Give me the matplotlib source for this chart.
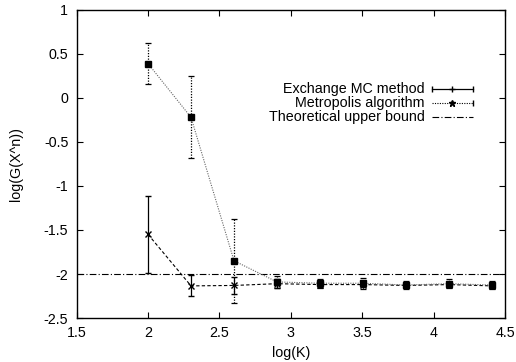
import matplotlib
matplotlib.use('Agg')
import matplotlib.pyplot as plt
import numpy as np

plt.rcParams['font.family'] = ['Liberation Sans', 'DejaVu Sans']

# ── Data ───────────────────────────────────────────────────────────
log_k = np.log10([100, 200, 400, 800, 1600, 3200, 6400, 12800, 25600])

exch_vals = [-1.55, -2.135, -2.13, -2.11, -2.12, -2.12, -2.13, -2.12, -2.135]
exch_err  = [0.44, 0.12, 0.10, 0.05, 0.03, 0.03, 0.02, 0.03, 0.02]

metro_vals = [0.39, -0.22, -1.85, -2.09, -2.105, -2.105, -2.125, -2.11, -2.125]
metro_err  = [0.235, 0.465, 0.475, 0.07, 0.05, 0.06, 0.04, 0.05, 0.05]

upper_bound = -2.0

x_ticks = [1.5, 2, 2.5, 3, 3.5, 4, 4.5]
y_ticks = [-2.5, -2, -1.5, -1, -0.5, 0, 0.5, 1]

FS = 10.3

# ── Figure ─────────────────────────────────────────────────────────
fig = plt.figure(figsize=(5.16, 3.62), dpi=100, facecolor='white')
ax = fig.add_axes([0.1486, 0.1215, 0.83, 0.851])

# Theoretical upper bound
ax.axhline(upper_bound, color='black', linewidth=0.8, linestyle=(0, (6, 2, 1, 2)), zorder=1)

# Exchange MC method: dashed line, solid error bars
ax.errorbar(log_k, exch_vals, yerr=exch_err, color='black', linewidth=0.8,
            linestyle=(0, (3, 2)), marker='x', markersize=4, markeredgewidth=1.0,
            ecolor='black', elinewidth=0.9, capsize=2.5, capthick=0.9, zorder=3)

# Metropolis algorithm: dotted line, dotted error bars, filled squares
_, _, bars = ax.errorbar(log_k, metro_vals, yerr=metro_err, color='#666666',
                         linewidth=0.8, linestyle=(0, (1, 1.2)), marker='s',
                         markersize=5, markerfacecolor='black', markeredgecolor='black',
                         ecolor='black', elinewidth=0.9, capsize=2.5, capthick=0.9, zorder=4)
for b in bars:
    b.set_linestyle((0, (1, 1.2)))

# ── Axes styling ───────────────────────────────────────────────────
ax.set_xlim(1.5, 4.5)
ax.set_ylim(-2.5, 1)
ax.set_xticks(x_ticks)
ax.set_yticks(y_ticks)
ax.set_xticklabels(['1.5', '2', '2.5', '3', '3.5', '4', '4.5'])
ax.set_yticklabels(['-2.5', '-2', '-1.5', '-1', '-0.5', '0', '0.5', '1'])
ax.tick_params(direction='in', length=4, width=0.8, labelsize=FS,
               top=True, right=True, pad=6)
for spine in ax.spines.values():
    spine.set_linewidth(1.0)

ax.set_xlabel('log(K)', fontsize=FS, labelpad=4)
ax.set_ylabel('log(G(X^n))', fontsize=FS, labelpad=15)

# ── Legend (gnuplot style, text right-aligned) ────────────────────
tx, lx0, lx1 = 0.813, 0.8296, 0.925
rows = [0.7435, 0.698, 0.6526]
labels = ['Exchange MC method', 'Metropolis algorithm', 'Theoretical upper bound']
for y, lab in zip(rows, labels):
    ax.text(tx, y, lab, transform=ax.transAxes, ha='right', va='center', fontsize=FS)

lm = (lx0 + lx1) / 2
ax.plot([lx0, lx1], [rows[0]] * 2, transform=ax.transAxes, color='black', linewidth=0.9)
ax.plot([lx0, lx1], [rows[0]] * 2, transform=ax.transAxes, color='black',
        linestyle='none', marker='|', markersize=5)
ax.plot([lm], [rows[0]], transform=ax.transAxes, color='black', marker='+', markersize=5)

ax.plot([lx0, lx1], [rows[1]] * 2, transform=ax.transAxes, color='black',
        linewidth=0.8, linestyle=(0, (1, 1.2)))
ax.plot([lx1], [rows[1]], transform=ax.transAxes, color='black', marker='|', markersize=4,
        linestyle='none')
ax.plot([lm], [rows[1]], transform=ax.transAxes, color='black', marker='*', markersize=5)

ax.plot([lx0, lx1], [rows[2]] * 2, transform=ax.transAxes, color='black',
        linewidth=0.8, linestyle=(0, (6, 2, 1, 2)))

plt.savefig('out.png', dpi=100, facecolor='white')
plt.close()
